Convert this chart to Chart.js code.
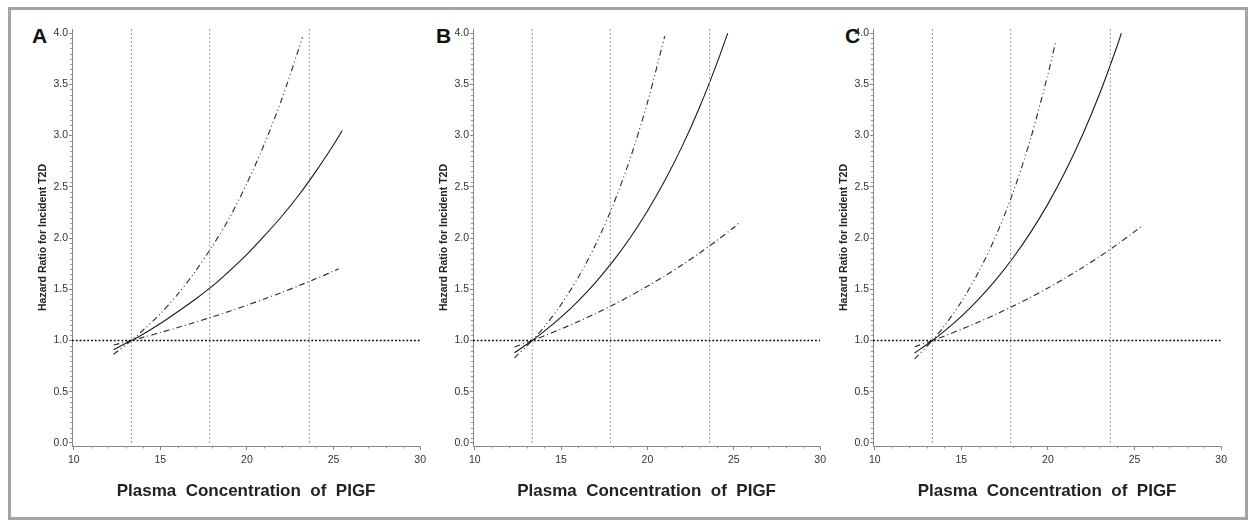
<!DOCTYPE html>
<html>
<head>
<meta charset="utf-8">
<script src="https://cdn.jsdelivr.net/npm/chart.js@4.4.0/dist/chart.umd.min.js"></script>
<style>
  body { margin: 0; background: #fff; width: 1248px; height: 521px; overflow: hidden; position: relative; }
  .frame { position: absolute; left: 8px; top: 7px; width: 1240px; height: 513px; box-sizing: border-box; border: 3px solid #a3a3a3; }
  .panel { position: absolute; top: 10px; height: 500px; }
  .letter { position: absolute; top: 25px; font: bold 21px/1 "Liberation Sans", Arial, sans-serif; color: #111; }
</style>
</head>
<body>
<div class="frame"></div>
<div class="letter" style="left:32px">A</div>
<div class="letter" style="left:436px">B</div>
<div class="letter" style="left:845px">C</div>
<div class="panel" style="left:12px;width:418px"><canvas id="chartA"></canvas></div>
<div class="panel" style="left:413px;width:417px"><canvas id="chartB"></canvas></div>
<div class="panel" style="left:813px;width:418px"><canvas id="chartC"></canvas></div>

<script>
// tick labels
var xTicks = [10, 15, 20, 25, 30];
var yTicks = [0, 0.5, 1.0, 1.5, 2.0, 2.5, 3.0, 3.5, 4.0];
// PlGF cut points (vertical dotted lines)
var cutPoints = [13.33, 17.85, 23.6];

// panel A
var aEstX = [12.3, 13.33, 14, 15, 16, 17, 18, 19, 20, 21, 22, 23, 24, 25, 25.5];
var aEst  = [0.91, 1.00, 1.06, 1.165, 1.28, 1.40, 1.53, 1.68, 1.84, 2.02, 2.21, 2.42, 2.655, 2.91, 3.05];
var aUpX  = [12.3, 13.33, 14, 15, 16, 17, 18, 19, 20, 21, 22, 23, 23.2];
var aUp   = [0.865, 1.00, 1.10, 1.26, 1.45, 1.67, 1.92, 2.20, 2.535, 2.915, 3.35, 3.85, 3.96];
var aLoX  = [12.3, 13.33, 14, 15, 16, 17, 18, 19, 20, 21, 22, 23, 24, 25, 25.3];
var aLo   = [0.955, 1.00, 1.03, 1.077, 1.126, 1.177, 1.23, 1.286, 1.344, 1.405, 1.468, 1.535, 1.604, 1.677, 1.70];

// panel B
var bEstX = [12.3, 13.33, 14, 15, 16, 17, 18, 19, 20, 21, 22, 23, 24, 24.65];
var bEst  = [0.88, 1.00, 1.086, 1.227, 1.387, 1.568, 1.772, 2.003, 2.264, 2.559, 2.892, 3.269, 3.695, 4.0];
var bUpX  = [12.3, 13.33, 14, 15, 16, 17, 18, 19, 20, 21];
var bUp   = [0.83, 1.00, 1.128, 1.351, 1.617, 1.936, 2.318, 2.775, 3.322, 3.97];
var bLoX  = [12.3, 13.33, 14, 15, 16, 17, 18, 19, 20, 21, 22, 23, 24, 25, 25.4];
var bLo   = [0.937, 1.00, 1.044, 1.112, 1.185, 1.263, 1.347, 1.435, 1.53, 1.63, 1.737, 1.851, 1.973, 2.103, 2.16];

// panel C
var cEstX = [12.3, 13.33, 14, 15, 16, 17, 18, 19, 20, 21, 22, 23, 24, 24.24];
var cEst  = [0.877, 1.00, 1.089, 1.236, 1.404, 1.594, 1.81, 2.055, 2.333, 2.649, 3.008, 3.415, 3.877, 4.0];
var cUpX  = [12.3, 13.33, 14, 15, 16, 17, 18, 19, 20, 20.45];
var cUp   = [0.82, 1.00, 1.137, 1.378, 1.67, 2.023, 2.451, 2.97, 3.599, 3.92];
var cLoX  = [12.3, 13.33, 14, 15, 16, 17, 18, 19, 20, 21, 22, 23, 24, 25, 25.45];
var cLo   = [0.938, 1.00, 1.042, 1.109, 1.18, 1.255, 1.336, 1.421, 1.512, 1.609, 1.712, 1.821, 1.938, 2.062, 2.12];

var FONT = '"Liberation Sans", Arial, Helvetica, sans-serif';
var X_MIN = 9.9, X_MAX = 30, Y_MIN = -0.03, Y_MAX = 4.04;

function pts(xs, ys) {
    return xs.map(function (x, i) { return {x: x, y: ys[i]}; });
}

// small minor ticks along both axes
var minorTicks = {
    id: 'minorTicks',
    afterDraw: function (chart) {
        var ctx = chart.ctx, x = chart.scales.x, y = chart.scales.y;
        ctx.save();
        ctx.strokeStyle = '#999';
        ctx.lineWidth = 1;
        ctx.beginPath();
        for (var i = 0; i <= 80; i++) {
            if (i % 10 === 0) continue;
            var py = Math.round(y.getPixelForValue(i * 0.05)) + 0.5;
            ctx.moveTo(y.right - 2, py);
            ctx.lineTo(y.right, py);
        }
        for (var v = 11; v < 30; v++) {
            if (v % 5 === 0) continue;
            var px = Math.round(x.getPixelForValue(v)) + 0.5;
            ctx.moveTo(px, x.top);
            ctx.lineTo(px, x.top + 2.5);
        }
        ctx.stroke();
        ctx.restore();
    }
};

function makeChart(id, est, up, lo) {
    var datasets = cutPoints.map(function (c) {
        return {
            data: [{x: c, y: 0}, {x: c, y: Y_MAX}],
            borderColor: '#999', borderWidth: 1, borderDash: [2, 2]
        };
    });
    datasets.push({
        data: [{x: X_MIN, y: 1}, {x: X_MAX, y: 1}],
        borderColor: '#000', borderWidth: 1.4, borderDash: [1.8, 2]
    });
    datasets.push({data: up, borderColor: '#2a2a2a', borderWidth: 1.1, borderDash: [6, 3, 1, 3, 1, 3], tension: 0.3});
    datasets.push({data: lo, borderColor: '#2a2a2a', borderWidth: 1.1, borderDash: [6, 3, 1, 3], tension: 0.3});
    datasets.push({data: est, borderColor: '#1a1a1a', borderWidth: 1.1, tension: 0.3});

    return new Chart(document.getElementById(id), {
        type: 'line',
        data: {datasets: datasets},
        options: {
            responsive: true,
            maintainAspectRatio: false,
            animation: false,
            layout: {padding: {top: 19, right: 9, left: 0, bottom: 0}},
            elements: {point: {radius: 0}},
            plugins: {legend: {display: false}, tooltip: {enabled: false}},
            scales: {
                x: {
                    type: 'linear', min: X_MIN, max: X_MAX,
                    afterBuildTicks: function (s) { s.ticks = xTicks.map(function (v) { return {value: v}; }); },
                    afterFit: function (s) { s.height = 64; },
                    ticks: {font: {family: FONT, size: 10.5}, color: '#333', padding: 4, maxRotation: 0, autoSkip: false},
                    grid: {drawOnChartArea: false, tickLength: 4, tickColor: '#888'},
                    border: {color: '#888'},
                    title: {
                        display: true, text: 'Plasma  Concentration  of  PIGF', color: '#222',
                        font: {family: FONT, size: 17, weight: 'bold'}, padding: {top: 0, bottom: 8}
                    }
                },
                y: {
                    min: Y_MIN, max: Y_MAX,
                    afterBuildTicks: function (s) { s.ticks = yTicks.map(function (v) { return {value: v}; }); },
                    afterFit: function (s) { s.width = 60; },
                    ticks: {
                        font: {family: FONT, size: 10.5}, color: '#333', padding: 1,
                        callback: function (v) { return Number(v).toFixed(1); }
                    },
                    grid: {drawOnChartArea: false, tickLength: 3, tickColor: '#888'},
                    border: {color: '#888'},
                    title: {
                        display: true, text: 'Hazard Ratio for Incident T2D', color: '#222',
                        font: {family: FONT, size: 10.5, weight: 'bold'}, padding: {top: 25, bottom: 0}
                    }
                }
            }
        },
        plugins: [minorTicks]
    });
}

makeChart('chartA', pts(aEstX, aEst), pts(aUpX, aUp), pts(aLoX, aLo));
makeChart('chartB', pts(bEstX, bEst), pts(bUpX, bUp), pts(bLoX, bLo));
makeChart('chartC', pts(cEstX, cEst), pts(cUpX, cUp), pts(cLoX, cLo));
</script>
</body>
</html>
